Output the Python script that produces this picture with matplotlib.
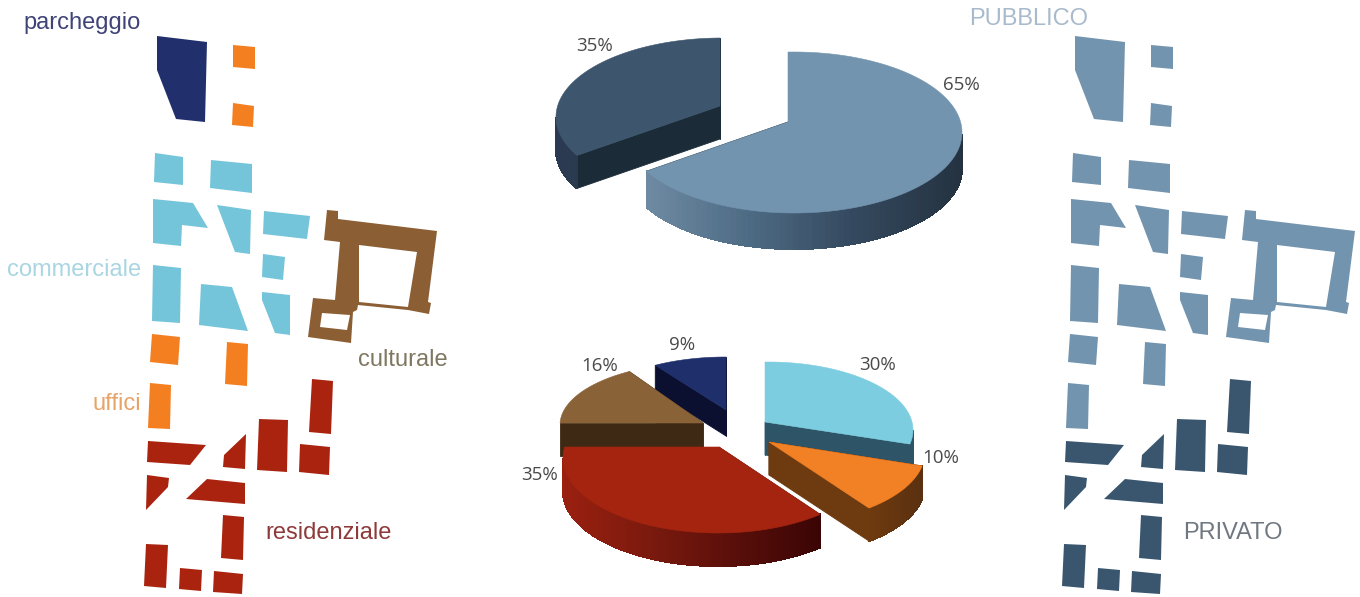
import numpy as np
import matplotlib
matplotlib.use("Agg")
import matplotlib.pyplot as plt
from matplotlib.patches import Polygon, PathPatch
from matplotlib.path import Path

# Land use shares and ownership shares, in percent
use_names = ["commerciale", "uffici", "residenziale", "culturale", "parcheggio"]
use_values = [30, 10, 35, 16, 9]
owner_names = ["pubblico", "privato"]
owner_values = [65, 35]

# Colours
MAP_COLORS = {"parcheggio": "#222F6D", "uffici": "#F47F20", "commerciale": "#74C4DA",
              "culturale": "#8B5E34", "residenziale": "#A9230F"}
PUBLIC_COLOR = "#7294AE"
PRIVATE_COLOR = "#3A566F"

# Building footprints of the site plan, grouped by land use
plan = {
    "parcheggio": [[(157, 36), (207, 42), (205, 122), (176, 119), (157, 70)]],
    "uffici": [
        [(233, 45), (255, 47), (255, 69), (233, 67)],
        [(233, 103), (254, 106), (253, 127), (232, 125)],
        [(152, 334), (180, 337), (178, 365), (150, 362)],
        [(227, 342), (248, 344), (247, 386), (225, 384)],
        [(150, 383), (171, 385), (170, 429), (148, 428)],
    ],
    "commerciale": [
        [(155, 153), (183, 157), (183, 185), (154, 182)],
        [(211, 160), (252, 164), (252, 193), (210, 188)],
        [(153, 199), (193, 203), (208, 228), (182, 225), (181, 246), (153, 243)],
        [(217, 205), (251, 210), (250, 254), (235, 252)],
        [(264, 211), (310, 216), (307, 239), (263, 234)],
        [(263, 254), (285, 257), (283, 280), (262, 277)],
        [(153, 265), (181, 268), (180, 323), (152, 321)],
        [(201, 284), (232, 287), (248, 331), (199, 325)],
        [(262, 292), (290, 295), (290, 335), (275, 333), (262, 300)],
    ],
    "residenziale": [
        [(148, 441), (206, 445), (190, 465), (147, 462)],
        [(246, 434), (245, 469), (223, 467), (224, 455)],
        [(259, 419), (288, 420), (287, 472), (257, 470)],
        [(312, 379), (333, 381), (331, 434), (309, 432)],
        [(300, 444), (330, 447), (329, 475), (299, 472)],
        [(147, 475), (169, 478), (168, 487), (146, 510)],
        [(207, 479), (245, 483), (245, 504), (186, 499)],
        [(223, 515), (244, 517), (243, 560), (221, 558)],
        [(146, 544), (168, 545), (166, 588), (144, 586)],
        [(180, 568), (202, 570), (201, 591), (179, 589)],
        [(214, 571), (243, 574), (242, 594), (213, 592)],
    ],
}
museum_outline = [(327, 210), (338, 211), (338, 219), (437, 231), (428, 302), (431, 303),
                  (429, 314), (408, 310), (358, 305), (357, 310), (353, 312), (351, 343),
                  (308, 337), (313, 298), (335, 300), (340, 242), (324, 240)]
museum_courts = [[(359, 245), (417, 252), (408, 307), (359, 302)],
                 [(322, 313), (350, 315), (347, 330), (320, 327)]]

PUBLIC_SHIFT = 918
PRIVATE_USES = ["residenziale"]

# Slice geometry: (ellipse centre, radii, apex, extrusion) for each slice
owner_geom = [
    dict(c=(794, 132.5), r=(168, 80.5), apex=(788, 122), depth=36,
         top=PUBLIC_COLOR, wall="#1B2B36",
         side=["#6F8BA3", "#4D6A84", "#34495E", "#243240"]),
    dict(c=(722, 117), r=(166, 79), apex=(720, 106), depth=33,
         top="#3D566E", wall="#1B2C38", side=["#2B3A52", "#2A3A4E"]),
]
use_geom = [
    dict(c=(768, 430), r=(145, 68), apex=(765, 422), depth=33,
         top="#7CCDE0", wall="#2E5468", side=["#2E5468", "#2E5468"]),
    dict(c=(775, 452), r=(150, 72), apex=(769, 442), depth=33,
         top="#F28024", wall="#6E3A0F", side=["#6E3A0F", "#5A3010"]),
    dict(c=(718, 458), r=(155, 75), apex=(719, 447), depth=33,
         top="#A52410", wall="#5A0F0A", side=["#9A2010", "#7B1A0E", "#5A0F0A", "#3A0505"]),
    dict(c=(700, 425), r=(140, 62), apex=(703, 423), depth=33,
         top="#8A6238", wall="#3E2A14", side=["#3E2A14", "#3E2A14"]),
    dict(c=(726, 410), r=(132, 53), apex=(726, 410), depth=26,
         top="#1F2F6B", wall="#0B1030", side=["#0B1030", "#0B1030"]),
]
# Painting order, back to front
use_order = [4, 3, 0, 1, 2]

owner_label_xy = [(961, 85), (595, 46)]
use_label_xy = [(878, 365), (941, 458), (540, 475), (600, 366), (682, 345)]

legend_labels = [
    ("parcheggio", 141, 29, "right", "#3F4376"),
    ("commerciale", 141, 276, "right", "#A9D6E2"),
    ("uffici", 141, 410, "right", "#E8A468"),
    ("culturale", 358, 366, "left", "#7F7760"),
    ("residenziale", 265, 539, "left", "#8E3A3A"),
    ("PUBBLICO", 969, 25, "left", "#A8BACB"),
    ("PRIVATO", 1183, 539, "left", "#6F7880"),
]

fig = plt.figure(figsize=(13.6, 5.97), dpi=100, facecolor="white")
ax = fig.add_axes([0, 0, 1, 1])
ax.set_xlim(0, 1360)
ax.set_ylim(597, 0)
ax.axis("off")


def add_plan(shift, color_for):
    """Draw the site plan, coloured per land use, moved right by shift."""
    for use, shapes in plan.items():
        for pts in shapes:
            ax.add_patch(Polygon([(x + shift, y) for x, y in pts], closed=True,
                                 fc=color_for(use), ec="none"))
    verts, codes = [], []
    for ring, rev in [(museum_outline, False)] + [(c, True) for c in museum_courts]:
        ring = ring[::-1] if rev else ring
        verts += [(x + shift, y) for x, y in ring] + [(0, 0)]
        codes += [Path.MOVETO] + [Path.LINETO] * (len(ring) - 1) + [Path.CLOSEPOLY]
    ax.add_patch(PathPatch(Path(verts, codes), fc=color_for("culturale"), ec="none"))


def rim_point(theta, g):
    """Point of the rim reached from the apex at theta degrees clockwise from the top."""
    cx, cy = g["c"]
    rx, ry = g["r"]
    px, py = (g["apex"][0] - cx) / rx, (g["apex"][1] - cy) / ry
    a = np.radians(theta)
    dx, dy = np.sin(a), -np.cos(a)
    b = px * dx + py * dy
    t = -b + np.sqrt(b * b - (px * px + py * py - 1))
    return np.column_stack((cx + (px + t * dx) * rx, cy + (py + t * dy) * ry))


def lerp_stops(stops, t):
    rgb = np.array([matplotlib.colors.to_rgb(s) for s in stops])
    pos = np.linspace(0, 1, len(stops))
    return tuple(np.interp(t, pos, rgb[:, i]) for i in range(3))


def draw_slice(start, end, g):
    """Extruded pie slice: radial walls, then the rim wall, then the top face."""
    thetas = np.linspace(start, end, 120)
    rim = np.vstack([rim_point(t, g) for t in thetas])
    apex = np.array(g["apex"], float)
    down = np.array([0, g["depth"]], float)
    for edge in (rim[0], rim[-1]):
        ax.add_patch(Polygon([apex, edge, edge + down, apex + down], closed=True,
                             fc=g["wall"], ec=g["wall"], lw=0.6))
    front = rim[:, 1] >= g["c"][1]
    if front.any():
        x0, x1 = rim[front, 0].min(), rim[front, 0].max()
        for i in range(len(rim) - 1):
            if front[i] and front[i + 1]:
                t = (rim[i, 0] - x0) / max(x1 - x0, 1)
                col = lerp_stops(g["side"], t)
                # Aliased strips leave no seams between neighbouring quads
                ax.add_patch(Polygon([rim[i], rim[i + 1], rim[i + 1] + down, rim[i] + down],
                                     closed=True, fc=col, ec=col, lw=0.8, antialiased=False))
    ax.add_patch(Polygon(np.vstack([apex, rim]), closed=True, fc=g["top"], ec=g["top"], lw=0.4))


def draw_pie(values, geoms, order, label_xy):
    edges = np.concatenate(([0], np.cumsum(values) * 3.6))
    for i in order:
        draw_slice(edges[i], edges[i + 1], geoms[i])
    for v, (x, y) in zip(values, label_xy):
        ax.text(x, y, f"{v}%", ha="center", va="center", fontsize=13.5,
                family="Open Sans", color="#4A4A4A")


add_plan(0, lambda use: MAP_COLORS[use])
add_plan(PUBLIC_SHIFT, lambda use: PRIVATE_COLOR if use in PRIVATE_USES else PUBLIC_COLOR)

draw_pie(owner_values, owner_geom, [1, 0], owner_label_xy)
draw_pie(use_values, use_geom, use_order, use_label_xy)

for text, x, y, ha, color in legend_labels:
    ax.text(x, y, text, ha=ha, va="baseline", fontsize=17,
            family="Liberation Sans", color=color)

fig.savefig("out.png", dpi=100, facecolor="white")
